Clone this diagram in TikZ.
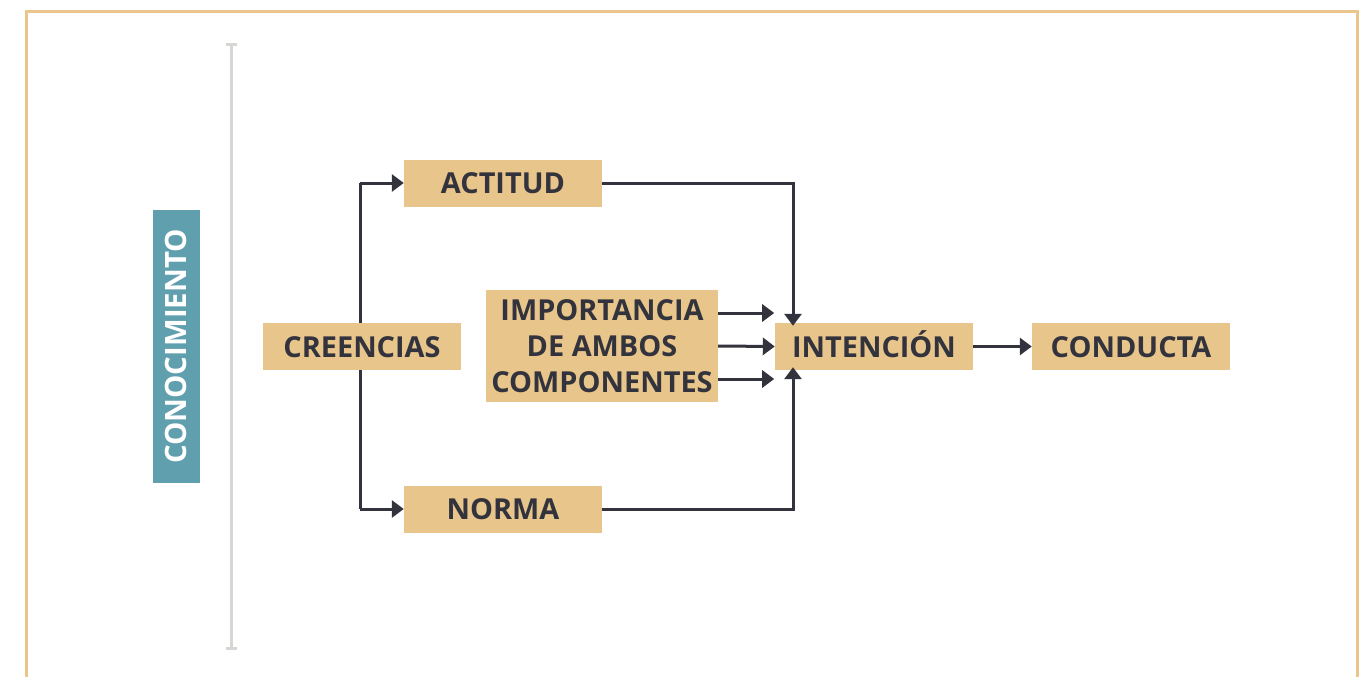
\documentclass[tikz,border=0pt]{standalone}
\usepackage{fontspec}
\setmainfont{Open Sans}
\usetikzlibrary{arrows.meta}
\definecolor{boxtan}{HTML}{E8C58B}
\definecolor{framecol}{HTML}{EAC68C}
\definecolor{teal}{HTML}{609FAE}
\definecolor{ink}{HTML}{33333D}
\definecolor{rulegray}{HTML}{D6D6D2}
\begin{document}
\begin{tikzpicture}[x=1bp,y=-1bp,
  tbox/.style={fill=boxtan, minimum width=198bp, minimum height=47bp, inner sep=0pt,
    font=\fontsize{29}{35}\selectfont\bfseries, text=ink},
  sbox/.style={tbox, text height=21bp, text depth=0bp},
  conn/.style={draw=ink, line width=3bp, -{Triangle[length=12bp,width=17bp]}},
  plain/.style={draw=ink, line width=3bp}]
\useasboundingbox (0,0) rectangle (1367,677);
\draw[framecol, line width=3bp] (26,700) -- (26,12) -- (1357,12) -- (1357,700);
% gray rule
\draw[rulegray, line width=3bp] (231,45) -- (231,648);
\draw[rulegray, line width=3bp] (226,45) -- (237,45);
\draw[rulegray, line width=3bp] (226,648) -- (237,648);
% side label
\node[fill=teal, minimum width=273bp, minimum height=47bp, inner sep=0pt, rotate=90,
  text=white, text height=21bp, text depth=0bp, font=\fontsize{29.5}{35}\selectfont\bfseries] (con) at (176,346.5) {CONOCIMIENTO};
% branch line behind creencias
\coordinate (bt) at (360,183);
\coordinate (bb) at (360,509);
\node[sbox] (act) at (503,183) {ACTITUD};
\node[sbox] (nor) at (503,509) {NORMA};
\draw[plain] (bt) -- (bb);
\draw[conn] (bt) -- (act.west);
\draw[conn] (bb) -- (nor.west);
\node[sbox] (cre) at (362,346.5) {CREENCIAS};
\node[tbox, minimum width=232bp, minimum height=112bp, align=center,
  font=\fontsize{29}{36}\selectfont\bfseries] (imp) at (602,346) {IMPORTANCIA\\DE AMBOS\\COMPONENTES};
\node[sbox] (int) at (874,346.5) {INTENCIÓN};
\node[sbox] (cond) at (1131,346.5) {CONDUCTA};
% arrows
\draw[conn] (act.east) -| ([xshift=-81bp,yshift=-3bp]int.north);
\draw[conn] (nor.east) -| ([xshift=-81bp,yshift=3bp]int.south);
\draw[conn] ([yshift=-33bp]imp.east) -- ++(56bp,0);
\draw[conn] (imp.east) -- (int.west);
\draw[conn] ([yshift=33bp]imp.east) -- ++(56bp,0);
\draw[conn] (int.east) -- (cond.west);
\end{tikzpicture}
\end{document}
